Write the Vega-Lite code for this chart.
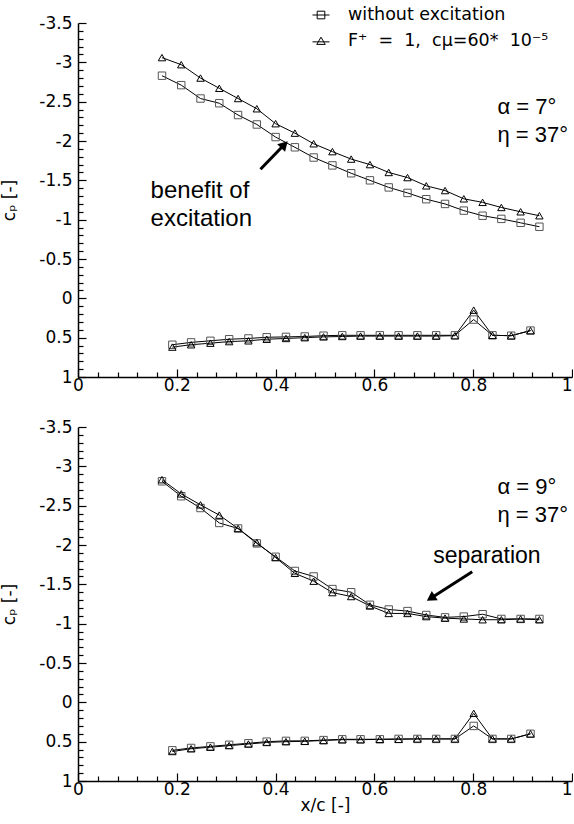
{
  "$schema": "https://vega.github.io/schema/vega-lite/v6.json",
  "padding": 0,
  "background": "white",
  "config": {
    "font": "DejaVu Sans",
    "view": {"stroke": null},
    "axis": {"domainColor": "black", "domainWidth": 1.5, "tickColor": "black", "tickWidth": 1.2, "labelColor": "black", "labelFont": "DejaVu Sans", "labelFontSize": 17, "titleFont": "DejaVu Sans", "titleFontSize": 17, "titleFontWeight": "normal", "titleColor": "black", "grid": false}
  },
  "datasets": {
    "top": [
      {"series": "without excitation", "surface": "upper", "x": 0.170, "cp": -2.83},
      {"series": "without excitation", "surface": "upper", "x": 0.209, "cp": -2.71},
      {"series": "without excitation", "surface": "upper", "x": 0.248, "cp": -2.54},
      {"series": "without excitation", "surface": "upper", "x": 0.286, "cp": -2.48},
      {"series": "without excitation", "surface": "upper", "x": 0.324, "cp": -2.33},
      {"series": "without excitation", "surface": "upper", "x": 0.362, "cp": -2.21},
      {"series": "without excitation", "surface": "upper", "x": 0.400, "cp": -2.05},
      {"series": "without excitation", "surface": "upper", "x": 0.439, "cp": -1.92},
      {"series": "without excitation", "surface": "upper", "x": 0.477, "cp": -1.79},
      {"series": "without excitation", "surface": "upper", "x": 0.515, "cp": -1.69},
      {"series": "without excitation", "surface": "upper", "x": 0.553, "cp": -1.59},
      {"series": "without excitation", "surface": "upper", "x": 0.591, "cp": -1.50},
      {"series": "without excitation", "surface": "upper", "x": 0.629, "cp": -1.41},
      {"series": "without excitation", "surface": "upper", "x": 0.667, "cp": -1.34},
      {"series": "without excitation", "surface": "upper", "x": 0.705, "cp": -1.26},
      {"series": "without excitation", "surface": "upper", "x": 0.743, "cp": -1.20},
      {"series": "without excitation", "surface": "upper", "x": 0.781, "cp": -1.115},
      {"series": "without excitation", "surface": "upper", "x": 0.819, "cp": -1.05},
      {"series": "without excitation", "surface": "upper", "x": 0.857, "cp": -1.01},
      {"series": "without excitation", "surface": "upper", "x": 0.896, "cp": -0.96},
      {"series": "without excitation", "surface": "upper", "x": 0.934, "cp": -0.91},
      {"series": "without excitation", "surface": "lower", "x": 0.191, "cp": 0.59},
      {"series": "without excitation", "surface": "lower", "x": 0.229, "cp": 0.56},
      {"series": "without excitation", "surface": "lower", "x": 0.268, "cp": 0.54},
      {"series": "without excitation", "surface": "lower", "x": 0.306, "cp": 0.52},
      {"series": "without excitation", "surface": "lower", "x": 0.345, "cp": 0.51},
      {"series": "without excitation", "surface": "lower", "x": 0.382, "cp": 0.495},
      {"series": "without excitation", "surface": "lower", "x": 0.421, "cp": 0.49},
      {"series": "without excitation", "surface": "lower", "x": 0.459, "cp": 0.485},
      {"series": "without excitation", "surface": "lower", "x": 0.497, "cp": 0.475},
      {"series": "without excitation", "surface": "lower", "x": 0.535, "cp": 0.47},
      {"series": "without excitation", "surface": "lower", "x": 0.572, "cp": 0.47},
      {"series": "without excitation", "surface": "lower", "x": 0.611, "cp": 0.47},
      {"series": "without excitation", "surface": "lower", "x": 0.649, "cp": 0.47},
      {"series": "without excitation", "surface": "lower", "x": 0.687, "cp": 0.47},
      {"series": "without excitation", "surface": "lower", "x": 0.725, "cp": 0.47},
      {"series": "without excitation", "surface": "lower", "x": 0.763, "cp": 0.47},
      {"series": "without excitation", "surface": "lower", "x": 0.801, "cp": 0.27},
      {"series": "without excitation", "surface": "lower", "x": 0.839, "cp": 0.47},
      {"series": "without excitation", "surface": "lower", "x": 0.877, "cp": 0.475},
      {"series": "without excitation", "surface": "lower", "x": 0.916, "cp": 0.41},
      {"series": "F⁺ = 1, cμ=60* 10⁻⁵", "surface": "upper", "x": 0.170, "cp": -3.06},
      {"series": "F⁺ = 1, cμ=60* 10⁻⁵", "surface": "upper", "x": 0.209, "cp": -2.97},
      {"series": "F⁺ = 1, cμ=60* 10⁻⁵", "surface": "upper", "x": 0.248, "cp": -2.80},
      {"series": "F⁺ = 1, cμ=60* 10⁻⁵", "surface": "upper", "x": 0.286, "cp": -2.67},
      {"series": "F⁺ = 1, cμ=60* 10⁻⁵", "surface": "upper", "x": 0.324, "cp": -2.54},
      {"series": "F⁺ = 1, cμ=60* 10⁻⁵", "surface": "upper", "x": 0.362, "cp": -2.41},
      {"series": "F⁺ = 1, cμ=60* 10⁻⁵", "surface": "upper", "x": 0.400, "cp": -2.22},
      {"series": "F⁺ = 1, cμ=60* 10⁻⁵", "surface": "upper", "x": 0.439, "cp": -2.10},
      {"series": "F⁺ = 1, cμ=60* 10⁻⁵", "surface": "upper", "x": 0.477, "cp": -1.965},
      {"series": "F⁺ = 1, cμ=60* 10⁻⁵", "surface": "upper", "x": 0.515, "cp": -1.865},
      {"series": "F⁺ = 1, cμ=60* 10⁻⁵", "surface": "upper", "x": 0.553, "cp": -1.77},
      {"series": "F⁺ = 1, cμ=60* 10⁻⁵", "surface": "upper", "x": 0.591, "cp": -1.70},
      {"series": "F⁺ = 1, cμ=60* 10⁻⁵", "surface": "upper", "x": 0.629, "cp": -1.60},
      {"series": "F⁺ = 1, cμ=60* 10⁻⁵", "surface": "upper", "x": 0.667, "cp": -1.535},
      {"series": "F⁺ = 1, cμ=60* 10⁻⁵", "surface": "upper", "x": 0.705, "cp": -1.43},
      {"series": "F⁺ = 1, cμ=60* 10⁻⁵", "surface": "upper", "x": 0.743, "cp": -1.37},
      {"series": "F⁺ = 1, cμ=60* 10⁻⁵", "surface": "upper", "x": 0.781, "cp": -1.265},
      {"series": "F⁺ = 1, cμ=60* 10⁻⁵", "surface": "upper", "x": 0.819, "cp": -1.22},
      {"series": "F⁺ = 1, cμ=60* 10⁻⁵", "surface": "upper", "x": 0.857, "cp": -1.155},
      {"series": "F⁺ = 1, cμ=60* 10⁻⁵", "surface": "upper", "x": 0.896, "cp": -1.10},
      {"series": "F⁺ = 1, cμ=60* 10⁻⁵", "surface": "upper", "x": 0.934, "cp": -1.05},
      {"series": "F⁺ = 1, cμ=60* 10⁻⁵", "surface": "lower", "x": 0.191, "cp": 0.62},
      {"series": "F⁺ = 1, cμ=60* 10⁻⁵", "surface": "lower", "x": 0.229, "cp": 0.59},
      {"series": "F⁺ = 1, cμ=60* 10⁻⁵", "surface": "lower", "x": 0.268, "cp": 0.57},
      {"series": "F⁺ = 1, cμ=60* 10⁻⁵", "surface": "lower", "x": 0.306, "cp": 0.55},
      {"series": "F⁺ = 1, cμ=60* 10⁻⁵", "surface": "lower", "x": 0.345, "cp": 0.54},
      {"series": "F⁺ = 1, cμ=60* 10⁻⁵", "surface": "lower", "x": 0.382, "cp": 0.52},
      {"series": "F⁺ = 1, cμ=60* 10⁻⁵", "surface": "lower", "x": 0.421, "cp": 0.51},
      {"series": "F⁺ = 1, cμ=60* 10⁻⁵", "surface": "lower", "x": 0.459, "cp": 0.50},
      {"series": "F⁺ = 1, cμ=60* 10⁻⁵", "surface": "lower", "x": 0.497, "cp": 0.49},
      {"series": "F⁺ = 1, cμ=60* 10⁻⁵", "surface": "lower", "x": 0.535, "cp": 0.485},
      {"series": "F⁺ = 1, cμ=60* 10⁻⁵", "surface": "lower", "x": 0.572, "cp": 0.48},
      {"series": "F⁺ = 1, cμ=60* 10⁻⁵", "surface": "lower", "x": 0.611, "cp": 0.48},
      {"series": "F⁺ = 1, cμ=60* 10⁻⁵", "surface": "lower", "x": 0.649, "cp": 0.48},
      {"series": "F⁺ = 1, cμ=60* 10⁻⁵", "surface": "lower", "x": 0.687, "cp": 0.48},
      {"series": "F⁺ = 1, cμ=60* 10⁻⁵", "surface": "lower", "x": 0.725, "cp": 0.48},
      {"series": "F⁺ = 1, cμ=60* 10⁻⁵", "surface": "lower", "x": 0.763, "cp": 0.475},
      {"series": "F⁺ = 1, cμ=60* 10⁻⁵", "surface": "lower", "x": 0.801, "cp": 0.15},
      {"series": "F⁺ = 1, cμ=60* 10⁻⁵", "surface": "lower", "x": 0.839, "cp": 0.47},
      {"series": "F⁺ = 1, cμ=60* 10⁻⁵", "surface": "lower", "x": 0.877, "cp": 0.475},
      {"series": "F⁺ = 1, cμ=60* 10⁻⁵", "surface": "lower", "x": 0.916, "cp": 0.41}
    ],
    "bottom": [
      {"series": "without excitation", "surface": "upper", "x": 0.170, "cp": -2.81},
      {"series": "without excitation", "surface": "upper", "x": 0.209, "cp": -2.62},
      {"series": "without excitation", "surface": "upper", "x": 0.248, "cp": -2.47},
      {"series": "without excitation", "surface": "upper", "x": 0.286, "cp": -2.28},
      {"series": "without excitation", "surface": "upper", "x": 0.324, "cp": -2.21},
      {"series": "without excitation", "surface": "upper", "x": 0.362, "cp": -2.02},
      {"series": "without excitation", "surface": "upper", "x": 0.400, "cp": -1.85},
      {"series": "without excitation", "surface": "upper", "x": 0.439, "cp": -1.67},
      {"series": "without excitation", "surface": "upper", "x": 0.477, "cp": -1.60},
      {"series": "without excitation", "surface": "upper", "x": 0.515, "cp": -1.44},
      {"series": "without excitation", "surface": "upper", "x": 0.553, "cp": -1.40},
      {"series": "without excitation", "surface": "upper", "x": 0.591, "cp": -1.24},
      {"series": "without excitation", "surface": "upper", "x": 0.629, "cp": -1.18},
      {"series": "without excitation", "surface": "upper", "x": 0.667, "cp": -1.16},
      {"series": "without excitation", "surface": "upper", "x": 0.705, "cp": -1.11},
      {"series": "without excitation", "surface": "upper", "x": 0.743, "cp": -1.08},
      {"series": "without excitation", "surface": "upper", "x": 0.781, "cp": -1.09},
      {"series": "without excitation", "surface": "upper", "x": 0.819, "cp": -1.12},
      {"series": "without excitation", "surface": "upper", "x": 0.857, "cp": -1.06},
      {"series": "without excitation", "surface": "upper", "x": 0.896, "cp": -1.06},
      {"series": "without excitation", "surface": "upper", "x": 0.934, "cp": -1.06},
      {"series": "without excitation", "surface": "lower", "x": 0.191, "cp": 0.61},
      {"series": "without excitation", "surface": "lower", "x": 0.229, "cp": 0.58},
      {"series": "without excitation", "surface": "lower", "x": 0.268, "cp": 0.56},
      {"series": "without excitation", "surface": "lower", "x": 0.306, "cp": 0.54},
      {"series": "without excitation", "surface": "lower", "x": 0.345, "cp": 0.52},
      {"series": "without excitation", "surface": "lower", "x": 0.382, "cp": 0.50},
      {"series": "without excitation", "surface": "lower", "x": 0.421, "cp": 0.49},
      {"series": "without excitation", "surface": "lower", "x": 0.459, "cp": 0.49},
      {"series": "without excitation", "surface": "lower", "x": 0.497, "cp": 0.48},
      {"series": "without excitation", "surface": "lower", "x": 0.535, "cp": 0.47},
      {"series": "without excitation", "surface": "lower", "x": 0.572, "cp": 0.47},
      {"series": "without excitation", "surface": "lower", "x": 0.611, "cp": 0.47},
      {"series": "without excitation", "surface": "lower", "x": 0.649, "cp": 0.465},
      {"series": "without excitation", "surface": "lower", "x": 0.687, "cp": 0.465},
      {"series": "without excitation", "surface": "lower", "x": 0.725, "cp": 0.465},
      {"series": "without excitation", "surface": "lower", "x": 0.763, "cp": 0.465},
      {"series": "without excitation", "surface": "lower", "x": 0.801, "cp": 0.30},
      {"series": "without excitation", "surface": "lower", "x": 0.839, "cp": 0.465},
      {"series": "without excitation", "surface": "lower", "x": 0.877, "cp": 0.465},
      {"series": "without excitation", "surface": "lower", "x": 0.916, "cp": 0.40},
      {"series": "F⁺ = 1, cμ=60* 10⁻⁵", "surface": "upper", "x": 0.170, "cp": -2.83},
      {"series": "F⁺ = 1, cμ=60* 10⁻⁵", "surface": "upper", "x": 0.209, "cp": -2.65},
      {"series": "F⁺ = 1, cμ=60* 10⁻⁵", "surface": "upper", "x": 0.248, "cp": -2.51},
      {"series": "F⁺ = 1, cμ=60* 10⁻⁵", "surface": "upper", "x": 0.286, "cp": -2.38},
      {"series": "F⁺ = 1, cμ=60* 10⁻⁵", "surface": "upper", "x": 0.324, "cp": -2.21},
      {"series": "F⁺ = 1, cμ=60* 10⁻⁵", "surface": "upper", "x": 0.362, "cp": -2.03},
      {"series": "F⁺ = 1, cμ=60* 10⁻⁵", "surface": "upper", "x": 0.400, "cp": -1.84},
      {"series": "F⁺ = 1, cμ=60* 10⁻⁵", "surface": "upper", "x": 0.439, "cp": -1.64},
      {"series": "F⁺ = 1, cμ=60* 10⁻⁵", "surface": "upper", "x": 0.477, "cp": -1.54},
      {"series": "F⁺ = 1, cμ=60* 10⁻⁵", "surface": "upper", "x": 0.515, "cp": -1.395},
      {"series": "F⁺ = 1, cμ=60* 10⁻⁵", "surface": "upper", "x": 0.553, "cp": -1.345},
      {"series": "F⁺ = 1, cμ=60* 10⁻⁵", "surface": "upper", "x": 0.591, "cp": -1.225},
      {"series": "F⁺ = 1, cμ=60* 10⁻⁵", "surface": "upper", "x": 0.629, "cp": -1.13},
      {"series": "F⁺ = 1, cμ=60* 10⁻⁵", "surface": "upper", "x": 0.667, "cp": -1.13},
      {"series": "F⁺ = 1, cμ=60* 10⁻⁵", "surface": "upper", "x": 0.705, "cp": -1.09},
      {"series": "F⁺ = 1, cμ=60* 10⁻⁵", "surface": "upper", "x": 0.743, "cp": -1.07},
      {"series": "F⁺ = 1, cμ=60* 10⁻⁵", "surface": "upper", "x": 0.781, "cp": -1.06},
      {"series": "F⁺ = 1, cμ=60* 10⁻⁵", "surface": "upper", "x": 0.819, "cp": -1.05},
      {"series": "F⁺ = 1, cμ=60* 10⁻⁵", "surface": "upper", "x": 0.857, "cp": -1.05},
      {"series": "F⁺ = 1, cμ=60* 10⁻⁵", "surface": "upper", "x": 0.896, "cp": -1.06},
      {"series": "F⁺ = 1, cμ=60* 10⁻⁵", "surface": "upper", "x": 0.934, "cp": -1.05},
      {"series": "F⁺ = 1, cμ=60* 10⁻⁵", "surface": "lower", "x": 0.191, "cp": 0.625},
      {"series": "F⁺ = 1, cμ=60* 10⁻⁵", "surface": "lower", "x": 0.229, "cp": 0.59},
      {"series": "F⁺ = 1, cμ=60* 10⁻⁵", "surface": "lower", "x": 0.268, "cp": 0.57},
      {"series": "F⁺ = 1, cμ=60* 10⁻⁵", "surface": "lower", "x": 0.306, "cp": 0.55},
      {"series": "F⁺ = 1, cμ=60* 10⁻⁵", "surface": "lower", "x": 0.345, "cp": 0.53},
      {"series": "F⁺ = 1, cμ=60* 10⁻⁵", "surface": "lower", "x": 0.382, "cp": 0.51},
      {"series": "F⁺ = 1, cμ=60* 10⁻⁵", "surface": "lower", "x": 0.421, "cp": 0.50},
      {"series": "F⁺ = 1, cμ=60* 10⁻⁵", "surface": "lower", "x": 0.459, "cp": 0.495},
      {"series": "F⁺ = 1, cμ=60* 10⁻⁵", "surface": "lower", "x": 0.497, "cp": 0.485},
      {"series": "F⁺ = 1, cμ=60* 10⁻⁵", "surface": "lower", "x": 0.535, "cp": 0.475},
      {"series": "F⁺ = 1, cμ=60* 10⁻⁵", "surface": "lower", "x": 0.572, "cp": 0.475},
      {"series": "F⁺ = 1, cμ=60* 10⁻⁵", "surface": "lower", "x": 0.611, "cp": 0.47},
      {"series": "F⁺ = 1, cμ=60* 10⁻⁵", "surface": "lower", "x": 0.649, "cp": 0.47},
      {"series": "F⁺ = 1, cμ=60* 10⁻⁵", "surface": "lower", "x": 0.687, "cp": 0.465},
      {"series": "F⁺ = 1, cμ=60* 10⁻⁵", "surface": "lower", "x": 0.725, "cp": 0.465},
      {"series": "F⁺ = 1, cμ=60* 10⁻⁵", "surface": "lower", "x": 0.763, "cp": 0.465},
      {"series": "F⁺ = 1, cμ=60* 10⁻⁵", "surface": "lower", "x": 0.801, "cp": 0.14},
      {"series": "F⁺ = 1, cμ=60* 10⁻⁵", "surface": "lower", "x": 0.839, "cp": 0.465},
      {"series": "F⁺ = 1, cμ=60* 10⁻⁵", "surface": "lower", "x": 0.877, "cp": 0.465},
      {"series": "F⁺ = 1, cμ=60* 10⁻⁵", "surface": "lower", "x": 0.916, "cp": 0.40}
    ]
  },
  "bounds": "flush",
  "spacing": 50,
  "resolve": {"scale": {"shape": "independent", "color": "independent"}},
  "vconcat": [
    {
      "width": 494,
      "height": 354,
      "resolve": {"axis": {"x": "independent", "y": "independent"}, "scale": {"shape": "independent"}},
      "layer": [
        {
          "data": {"name": "top"},
          "mark": {"type": "line", "color": "black", "strokeWidth": 1},
          "encoding": {
            "x": {"field": "x", "type": "quantitative", "scale": {"domain": [0, 1], "nice": false, "zero": false}, "axis": {"orient": "bottom", "values": [0, 0.2, 0.4, 0.6, 0.8, 1], "labelExpr": "toString(datum.value)", "labelAlign": {"condition": {"test": "datum.value == 1", "value": "right"}, "value": "center"}, "tickSize": -8, "labelPadding": 8, "title": null}},
            "y": {"field": "cp", "type": "quantitative", "scale": {"domain": [-3.5, 1], "reverse": true, "nice": false, "zero": false}, "axis": {"orient": "left", "values": [-3.5, -3, -2.5, -2, -1.5, -1, -0.5, 0, 0.5, 1], "labelExpr": "toString(datum.value)", "tickSize": -8, "labelPadding": 14, "title": "cₚ [-]", "titlePadding": 20}},
            "detail": [{"field": "series"}, {"field": "surface"}]
          }
        },
        {
          "data": {"name": "top"},
          "mark": {"type": "point", "filled": false, "strokeWidth": 1, "size": 55, "opacity": 1},
          "encoding": {
            "x": {"field": "x", "type": "quantitative", "axis": {"orient": "bottom", "values": [0.04, 0.08, 0.12, 0.16, 0.24, 0.28, 0.32, 0.36, 0.44, 0.48, 0.52, 0.56, 0.64, 0.68, 0.72, 0.76, 0.84, 0.88, 0.92, 0.96], "labels": false, "domain": false, "tickSize": -5, "title": null}},
            "y": {"field": "cp", "type": "quantitative", "axis": {"orient": "left", "values": [-3.4, -3.3, -3.2, -3.1, -2.9, -2.8, -2.7, -2.6, -2.4, -2.3, -2.2, -2.1, -1.9, -1.8, -1.7, -1.6, -1.4, -1.3, -1.2, -1.1, -0.9, -0.8, -0.7, -0.6, -0.4, -0.3, -0.2, -0.1, 0.1, 0.2, 0.3, 0.4, 0.6, 0.7, 0.8, 0.9], "labels": false, "domain": false, "tickSize": -5, "title": null}},
            "shape": {"field": "series", "type": "nominal", "scale": {"domain": ["without excitation", "F⁺ = 1, cμ=60* 10⁻⁵"], "range": ["square", "triangle-up"]}, "legend": null},
            "color": {"field": "series", "type": "nominal", "scale": {"domain": ["without excitation", "F⁺ = 1, cμ=60* 10⁻⁵"], "range": ["#555555", "#000000"]}, "legend": null}
          }
        },
        {
          "data": {"name": "top"},
          "mark": {"type": "point", "filled": false, "opacity": 0, "color": "black"},
          "encoding": {
            "x": {"field": "x", "type": "quantitative", "axis": null},
            "y": {"field": "cp", "type": "quantitative", "axis": null},
            "shape": {"field": "series", "type": "nominal", "scale": {"domain": ["without excitation", "F⁺ = 1, cμ=60* 10⁻⁵"], "range": ["M-1,0H1M-0.45,-0.45H0.45V0.45H-0.45Z", "M-1,0.1H1M0,-0.45L0.5,0.4L-0.5,0.4Z"]}, "legend": {"orient": "none", "legendX": 228, "legendY": -23, "title": null, "symbolSize": 289, "symbolStrokeColor": "black", "symbolStrokeWidth": 1, "symbolFillColor": "transparent", "symbolOpacity": 1, "labelFont": "DejaVu Sans", "labelFontSize": 17.5, "labelColor": "black", "labelOffset": 18, "rowPadding": 8, "padding": 6, "labelLimit": 0, "labelExpr": "datum.label == 'without excitation' ? datum.label : 'F⁺\u2007=\u20071,\u2007cμ=60*\u200710⁻⁵'"}}
          }
        },
        {
          "data": {"values": [{}]},
          "mark": {"type": "rule", "strokeWidth": 3, "color": "black"},
          "encoding": {
            "x": {"datum": 0.3694, "type": "quantitative", "axis": null},
            "y": {"datum": -1.641, "type": "quantitative", "axis": null},
            "x2": {"datum": 0.4178},
            "y2": {"datum": -1.955}
          }
        },
        {
          "data": {"values": [{}]},
          "mark": {"type": "point", "shape": "triangle-up", "filled": true, "color": "black", "size": 120, "angle": 44, "opacity": 1},
          "encoding": {
            "x": {"datum": 0.4178, "type": "quantitative", "axis": null},
            "y": {"datum": -1.955, "type": "quantitative", "axis": null}
          }
        },
        {
          "data": {"values": [{}]},
          "mark": {"type": "text", "text": ["benefit of", "excitation"], "font": "Liberation Sans", "fontSize": 24, "align": "left", "baseline": "alphabetic", "lineHeight": 28.5, "fill": "black"},
          "encoding": {
            "x": {"datum": 0.147, "type": "quantitative", "axis": null},
            "y": {"datum": -1.28, "type": "quantitative", "axis": null}
          }
        },
        {
          "data": {"values": [{}]},
          "mark": {"type": "text", "text": ["α = 7°", "η = 37°"], "font": "Liberation Sans", "fontSize": 22, "align": "left", "baseline": "alphabetic", "lineHeight": 28, "fill": "black"},
          "encoding": {
            "x": {"datum": 0.849, "type": "quantitative", "axis": null},
            "y": {"datum": -2.34, "type": "quantitative", "axis": null}
          }
        }
      ]
    },
    {
      "width": 494,
      "height": 354,
      "resolve": {"axis": {"x": "independent", "y": "independent"}},
      "layer": [
        {
          "data": {"name": "bottom"},
          "mark": {"type": "line", "color": "black", "strokeWidth": 1},
          "encoding": {
            "x": {"field": "x", "type": "quantitative", "scale": {"domain": [0, 1], "nice": false, "zero": false}, "axis": {"orient": "bottom", "values": [0, 0.2, 0.4, 0.6, 0.8, 1], "labelExpr": "toString(datum.value)", "labelAlign": {"condition": {"test": "datum.value == 1", "value": "right"}, "value": "center"}, "tickSize": -8, "labelPadding": 8, "title": "x/c [-]", "titlePadding": 0}},
            "y": {"field": "cp", "type": "quantitative", "scale": {"domain": [-3.5, 1], "reverse": true, "nice": false, "zero": false}, "axis": {"orient": "left", "values": [-3.5, -3, -2.5, -2, -1.5, -1, -0.5, 0, 0.5, 1], "labelExpr": "toString(datum.value)", "tickSize": -8, "labelPadding": 14, "title": "cₚ [-]", "titlePadding": 20}},
            "detail": [{"field": "series"}, {"field": "surface"}]
          }
        },
        {
          "data": {"name": "bottom"},
          "mark": {"type": "point", "filled": false, "strokeWidth": 1, "size": 55, "opacity": 1},
          "encoding": {
            "x": {"field": "x", "type": "quantitative", "axis": {"orient": "bottom", "values": [0.04, 0.08, 0.12, 0.16, 0.24, 0.28, 0.32, 0.36, 0.44, 0.48, 0.52, 0.56, 0.64, 0.68, 0.72, 0.76, 0.84, 0.88, 0.92, 0.96], "labels": false, "domain": false, "tickSize": -5, "title": null}},
            "y": {"field": "cp", "type": "quantitative", "axis": {"orient": "left", "values": [-3.4, -3.3, -3.2, -3.1, -2.9, -2.8, -2.7, -2.6, -2.4, -2.3, -2.2, -2.1, -1.9, -1.8, -1.7, -1.6, -1.4, -1.3, -1.2, -1.1, -0.9, -0.8, -0.7, -0.6, -0.4, -0.3, -0.2, -0.1, 0.1, 0.2, 0.3, 0.4, 0.6, 0.7, 0.8, 0.9], "labels": false, "domain": false, "tickSize": -5, "title": null}},
            "shape": {"field": "series", "type": "nominal", "scale": {"domain": ["without excitation", "F⁺ = 1, cμ=60* 10⁻⁵"], "range": ["square", "triangle-up"]}, "legend": null},
            "color": {"field": "series", "type": "nominal", "scale": {"domain": ["without excitation", "F⁺ = 1, cμ=60* 10⁻⁵"], "range": ["#555555", "#000000"]}, "legend": null}
          }
        },
        {
          "data": {"values": [{}]},
          "mark": {"type": "rule", "strokeWidth": 3, "color": "black"},
          "encoding": {
            "x": {"datum": 0.798, "type": "quantitative", "axis": null},
            "y": {"datum": -1.661, "type": "quantitative", "axis": null},
            "x2": {"datum": 0.7142},
            "y2": {"datum": -1.323}
          }
        },
        {
          "data": {"values": [{}]},
          "mark": {"type": "point", "shape": "triangle-up", "filled": true, "color": "black", "size": 120, "angle": 237, "opacity": 1},
          "encoding": {
            "x": {"datum": 0.7142, "type": "quantitative", "axis": null},
            "y": {"datum": -1.323, "type": "quantitative", "axis": null}
          }
        },
        {
          "data": {"values": [{}]},
          "mark": {"type": "text", "text": "separation", "font": "Liberation Sans", "fontSize": 23, "align": "left", "baseline": "alphabetic", "fill": "black"},
          "encoding": {
            "x": {"datum": 0.719, "type": "quantitative", "axis": null},
            "y": {"datum": -1.766, "type": "quantitative", "axis": null}
          }
        },
        {
          "data": {"values": [{}]},
          "mark": {"type": "text", "text": ["α = 9°", "η = 37°"], "font": "Liberation Sans", "fontSize": 22, "align": "left", "baseline": "alphabetic", "lineHeight": 28, "fill": "black"},
          "encoding": {
            "x": {"datum": 0.849, "type": "quantitative", "axis": null},
            "y": {"datum": -2.645, "type": "quantitative", "axis": null}
          }
        }
      ]
    }
  ]
}
